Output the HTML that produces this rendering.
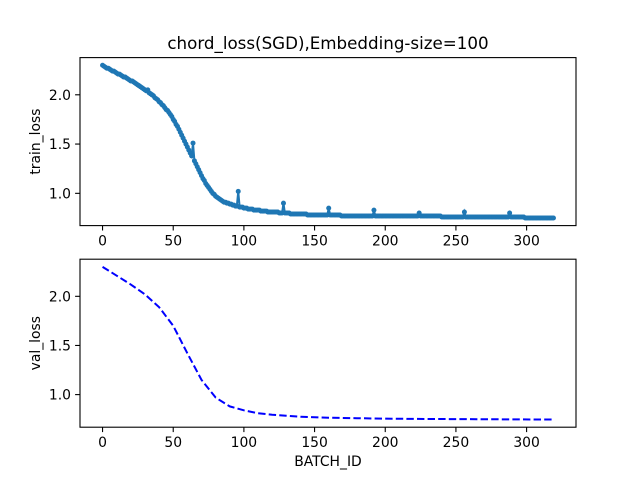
<!DOCTYPE html>
<html><head><meta charset="utf-8"><style>
body{margin:0;background:#fff;}
svg{display:block;font-family:"DejaVu Sans","Liberation Sans",sans-serif;}
</style></head><body>
<svg id="fig" width="640" height="480" viewBox="0 0 640 480" xmlns="http://www.w3.org/2000/svg">
<rect width="640" height="480" fill="#fff"/>
<text x="328" y="49" font-size="16.7" text-anchor="middle">chord_loss(SGD),Embedding-size=100</text>
<g id="top"></g>
<g id="bot"></g>
</svg>
<script>
const trainLoss = [
2.30,2.29,2.28,2.27,2.27,2.26,2.25,2.24,2.24,2.23,
2.22,2.21,2.21,2.20,2.19,2.18,2.18,2.17,2.16,2.15,
2.14,2.14,2.13,2.12,2.11,2.10,2.09,2.08,2.07,2.06,
2.05,2.04,2.05,2.02,2.01,2.00,1.99,1.97,1.96,1.95,
1.93,1.92,1.90,1.89,1.87,1.85,1.84,1.82,1.80,1.78,
1.75,1.73,1.70,1.68,1.65,1.62,1.59,1.56,1.53,1.50,
1.47,1.44,1.41,1.38,1.51,1.33,1.30,1.27,1.24,1.21,
1.18,1.15,1.13,1.10,1.08,1.06,1.04,1.02,1.00,0.99,
0.97,0.96,0.95,0.94,0.93,0.92,0.91,0.91,0.90,0.90,
0.89,0.89,0.88,0.88,0.87,0.87,1.02,0.86,0.86,0.86,
0.85,0.85,0.85,0.84,0.84,0.84,0.84,0.83,0.83,0.83,
0.83,0.83,0.82,0.82,0.82,0.82,0.82,0.81,0.81,0.81,
0.81,0.81,0.81,0.81,0.81,0.80,0.80,0.80,0.90,0.80,
0.80,0.80,0.80,0.79,0.79,0.79,0.79,0.79,0.79,0.79,
0.79,0.79,0.79,0.79,0.79,0.78,0.78,0.78,0.78,0.78,
0.78,0.78,0.78,0.78,0.78,0.78,0.78,0.78,0.78,0.78,
0.85,0.78,0.78,0.78,0.78,0.78,0.78,0.78,0.78,0.77,
0.77,0.77,0.77,0.77,0.77,0.77,0.77,0.77,0.77,0.77,
0.77,0.77,0.77,0.77,0.77,0.77,0.77,0.77,0.77,0.77,
0.77,0.77,0.83,0.77,0.77,0.77,0.77,0.77,0.77,0.77,
0.77,0.77,0.77,0.77,0.77,0.77,0.77,0.77,0.77,0.77,
0.77,0.77,0.77,0.77,0.77,0.77,0.77,0.77,0.77,0.77,
0.77,0.77,0.77,0.77,0.80,0.77,0.77,0.77,0.77,0.77,
0.77,0.77,0.77,0.77,0.77,0.77,0.77,0.77,0.77,0.77,
0.76,0.76,0.76,0.76,0.76,0.76,0.76,0.76,0.76,0.76,
0.76,0.76,0.76,0.76,0.76,0.76,0.81,0.76,0.76,0.76,
0.76,0.76,0.76,0.76,0.76,0.76,0.76,0.76,0.76,0.76,
0.76,0.76,0.76,0.76,0.76,0.76,0.76,0.76,0.76,0.76,
0.76,0.76,0.76,0.76,0.76,0.76,0.76,0.76,0.80,0.76,
0.76,0.76,0.76,0.76,0.76,0.76,0.76,0.76,0.76,0.75,
0.75,0.75,0.75,0.75,0.75,0.75,0.75,0.75,0.75,0.75,
0.75,0.75,0.75,0.75,0.75,0.75,0.75,0.75,0.75,0.75
];
const valBatch = [0,10,20,30,40,50,60,70,80,90,100,110,120,130,140,150,160,180,200,230,260,290,319];
const valLoss  = [2.30,2.21,2.12,2.02,1.89,1.70,1.42,1.15,0.97,0.88,0.84,0.81,0.795,0.785,0.775,0.77,0.765,0.76,0.755,0.752,0.75,0.748,0.746];
const xTicks = [0,50,100,150,200,250,300];
const yTicks = [1.0,1.5,2.0];
const yTickLabels = ["1.0","1.5","2.0"];

const NS="http://www.w3.org/2000/svg";
const L=80,R=576,W=R-L;
const xmin=0,xmax=319,xpad=(xmax-xmin)*0.05;
function sx(v){return L+(v-(xmin-xpad))/((xmax+xpad)-(xmin-xpad))*W;}
function mk(tag,attrs,parent){const e=document.createElementNS(NS,tag);for(const k in attrs)e.setAttribute(k,attrs[k]);parent.appendChild(e);return e;}

function axes(g,top,h,ymin,ymax,ylabel,prefix){
  const ypad=(ymax-ymin)*0.05, lo=ymin-ypad, hi=ymax+ypad;
  const sy=v=>top+h-(v-lo)/(hi-lo)*h;
  xTicks.forEach(t=>{
    const x=sx(t);
    const tk=mk('line',{x1:x,x2:x,y1:top+h,y2:top+h+4.9,stroke:'#000','stroke-width':1.1},g);
    
    
    const tx=mk('text',{x:x,y:top+h+20,'font-size':13.9,'text-anchor':'middle'},g);
    tx.textContent=t;
    
    
  });
  yTicks.forEach((t,i)=>{
    const y=sy(t);
    const tk=mk('line',{x1:L-4.9,x2:L,y1:y,y2:y,stroke:'#000','stroke-width':1.1},g);
    
    
    const tx=mk('text',{x:L-9,y:y+5,'font-size':13.9,'text-anchor':'end'},g);
    tx.textContent=yTickLabels[i];
    
    
  });
  const yl=mk('text',{x:0,y:0,'font-size':13.9,'text-anchor':'middle',transform:`translate(${L-40},${top+h/2}) rotate(-90)`},g);
  yl.textContent=ylabel;
  
  
  return sy;
}
function frame(g,top,h,prefix){
  const f=mk('rect',{x:L,y:top,width:W,height:h,fill:'none',stroke:'#000','stroke-width':1.1},g);
  
  
}

// top
const gt=document.getElementById('top');
const t1=57.6,h1=168;
const tmin=Math.min(...trainLoss),tmax=Math.max(...trainLoss);
const syt=axes(gt,t1,h1,tmin,tmax,'train_loss','train');
let d=trainLoss.map((v,i)=>(i?'L':'M')+sx(i).toFixed(2)+','+syt(v).toFixed(2)).join('');
const tl=mk('path',{d:d,fill:'none',stroke:'#1f77b4','stroke-width':2},gt);


trainLoss.forEach((v,i)=>{
  const c=mk('circle',{cx:sx(i),cy:syt(v),r:2.5,fill:'#1f77b4'},gt);
  
  
});
frame(gt,t1,h1,'train');

// bottom
const gb=document.getElementById('bot');
const t2=259.2,h2=168;
const vmin=Math.min(...valLoss),vmax=Math.max(...valLoss);
const syb=axes(gb,t2,h2,vmin,vmax,'val_loss','val');
d=valLoss.map((v,i)=>(i?'L':'M')+sx(valBatch[i]).toFixed(2)+','+syb(v).toFixed(2)).join('');
const vl=mk('path',{d:d,fill:'none',stroke:'#0000ff','stroke-width':2,'stroke-dasharray':'7.4,3.2'},gb);


frame(gb,t2,h2,'val');
const xl=mk('text',{x:(L+R)/2,y:t2+h2+39,'font-size':13.9,'text-anchor':'middle'},gb);
xl.textContent='BATCH_ID';


</script>
</body></html>
